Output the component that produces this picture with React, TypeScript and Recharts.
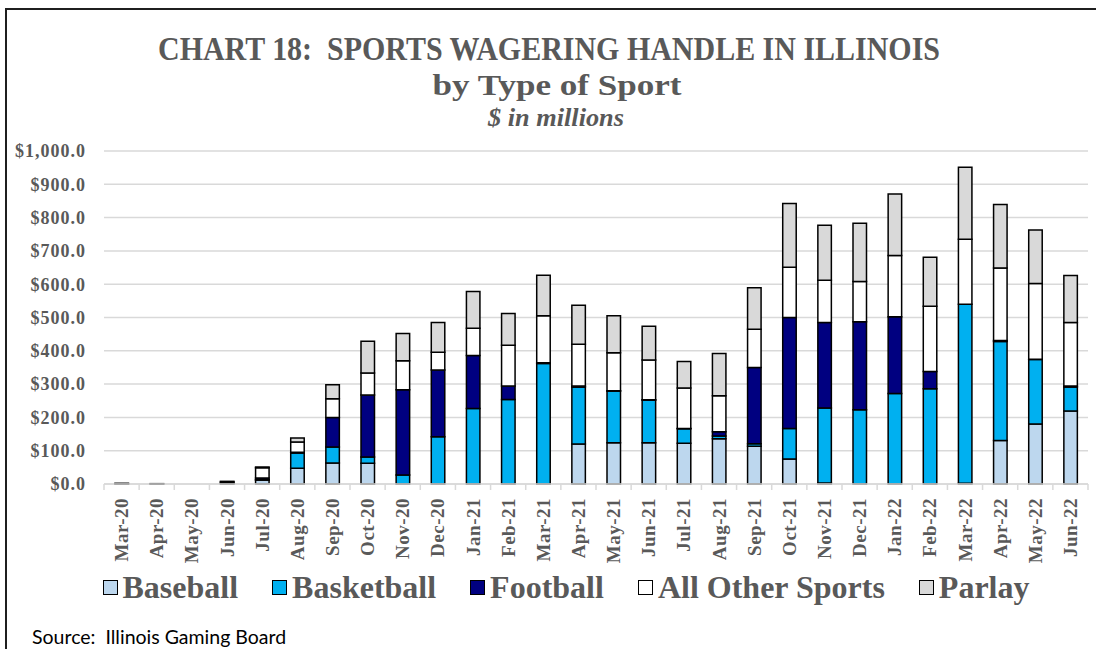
import { Bar, BarChart, CartesianGrid, Legend, XAxis, YAxis } from 'recharts';

// -----------------------------------------------------------------------------
// Data ($ in millions)
// -----------------------------------------------------------------------------

const months = [
  'Mar-20', 'Apr-20', 'May-20', 'Jun-20', 'Jul-20', 'Aug-20', 'Sep-20', 'Oct-20',
  'Nov-20', 'Dec-20', 'Jan-21', 'Feb-21', 'Mar-21', 'Apr-21', 'May-21', 'Jun-21',
  'Jul-21', 'Aug-21', 'Sep-21', 'Oct-21', 'Nov-21', 'Dec-21', 'Jan-22', 'Feb-22',
  'Mar-22', 'Apr-22', 'May-22', 'Jun-22',
];

const baseball = [
  0, 0, 0, 0, 12, 47, 63, 62, 0, 0, 0, 0, 0, 120, 124, 124,
  122, 136, 113, 75, 3, 0, 0, 0, 2, 131, 180, 219,
];
const basketball = [
  0, 0, 0, 0, 1, 46, 48, 19, 27, 142, 227, 254, 362, 171, 155, 128,
  44, 8, 8, 92, 225, 223, 272, 286, 538, 297, 194, 72,
];
const football = [
  0, 0, 0, 2, 5, 2, 89, 186, 256, 200, 159, 40, 2, 3, 1, 1,
  1, 13, 229, 333, 257, 264, 230, 52, 0, 3, 1, 3,
];
const otherSports = [
  1, 0.5, 0, 4, 31, 31, 56, 66, 87, 54, 82, 123, 141, 126, 114, 119,
  121, 108, 115, 151, 127, 121, 184, 196, 195, 218, 227, 191,
];
const parlay = [
  1, 0.5, 0, 2, 2, 12, 42, 96, 82, 89, 110, 95, 122, 117, 111, 102,
  80, 127, 124, 191, 165, 175, 185, 147, 216, 190, 161, 141,
];

const yTicks = [0, 100, 200, 300, 400, 500, 600, 700, 800, 900, 1000];

const series = [
  { key: 'baseball', name: 'Baseball', color: '#BDD7EE' },
  { key: 'basketball', name: 'Basketball', color: '#00B0F0' },
  { key: 'football', name: 'Football', color: '#000080' },
  { key: 'other', name: 'All Other Sports', color: '#FFFFFF' },
  { key: 'parlay', name: 'Parlay', color: '#D9D9D9' },
];

const data = months.map((month, i) => ({
  month,
  baseball: baseball[i],
  basketball: basketball[i],
  football: football[i],
  other: otherSports[i],
  parlay: parlay[i],
}));

// -----------------------------------------------------------------------------
// Layout
// -----------------------------------------------------------------------------

const W = 1096;
const H = 649;
const MARGIN = { top: 151, right: 8, bottom: 85, left: 0 };
const Y_W = 104;
const X_H = 80;
const BAND = (W - MARGIN.left - MARGIN.right - Y_W) / months.length;

const GRAY = '#595959';
const GRID = '#D9D9D9';
const SERIF = '"Liberation Serif", "Times New Roman", serif';

const fmt = (v: number) =>
  '$' + v.toLocaleString('en-US', { minimumFractionDigits: 1, maximumFractionDigits: 1 });

// eslint-disable-next-line @typescript-eslint/no-explicit-any
const MonthTick = (props: any) => {
  const { x, y, payload, index } = props;
  const axisY = y - 14;
  return (
    <g>
      <line x1={x - BAND / 2} x2={x - BAND / 2} y1={axisY} y2={axisY + 6} stroke={GRID} strokeWidth={1.5} />
      {index === months.length - 1 && (
        <line x1={x + BAND / 2} x2={x + BAND / 2} y1={axisY} y2={axisY + 6} stroke={GRID} strokeWidth={1.5} />
      )}
      <text
        x={x}
        y={y}
        dy="0.35em"
        transform={`rotate(-90, ${x}, ${y})`}
        textAnchor="end"
        fill={GRAY}
        fontFamily={SERIF}
        fontWeight={700}
        fontSize={19}
        letterSpacing={0.5}
      >
        {payload.value}
      </text>
    </g>
  );
};

const LegendContent = () => (
  <div
    style={{
      display: 'flex',
      justifyContent: 'center',
      gap: 34,
      fontFamily: SERIF,
      fontWeight: 700,
      fontSize: 32,
      lineHeight: '36px',
      color: GRAY,
      whiteSpace: 'nowrap',
    }}
  >
    {series.map((s) => (
      <div key={s.key} style={{ display: 'flex', alignItems: 'center' }}>
        <span
          style={{
            display: 'inline-block',
            width: 13,
            height: 13,
            border: '1.5px solid #000',
            background: s.color,
            marginRight: 5,
          }}
        />
        <span>{s.name}</span>
      </div>
    ))}
  </div>
);

// -----------------------------------------------------------------------------
// Component
// -----------------------------------------------------------------------------

export default function App() {
  return (
    <div
      style={{
        position: 'fixed',
        left: 0,
        top: 0,
        width: W,
        height: H,
        overflow: 'hidden',
        background: '#fff',
      }}
    >
      <div
        style={{
          position: 'absolute',
          left: 5,
          top: 8,
          width: 2000,
          height: 2000,
          borderLeft: '2px solid #1f1f1f',
          borderTop: '2px solid #1f1f1f',
        }}
      />
      <svg width={W} height={140} style={{ position: 'absolute', left: 0, top: 0 }}>
        <text
          x={549}
          y={60}
          textAnchor="middle"
          fill={GRAY}
          fontFamily={SERIF}
          fontWeight={700}
          fontSize={34}
          textLength={782}
          lengthAdjust="spacingAndGlyphs"
          style={{ whiteSpace: 'pre' }}
        >
          CHART 18:  SPORTS WAGERING HANDLE IN ILLINOIS
        </text>
        <text
          x={557}
          y={95}
          textAnchor="middle"
          fill={GRAY}
          fontFamily={SERIF}
          fontWeight={700}
          fontSize={30}
          textLength={249}
          lengthAdjust="spacingAndGlyphs"
        >
          by Type of Sport
        </text>
        <text
          x={556}
          y={126}
          textAnchor="middle"
          fill={GRAY}
          fontFamily={SERIF}
          fontWeight={700}
          fontStyle="italic"
          fontSize={25}
          textLength={136}
          lengthAdjust="spacingAndGlyphs"
        >
          $ in millions
        </text>
      </svg>
      <div style={{ position: 'absolute', left: 0, top: 0 }}>
        <BarChart width={W} height={H} data={data} margin={MARGIN} barSize={13.5}>
          <CartesianGrid vertical={false} stroke={GRID} strokeWidth={1.5} />
          <XAxis
            dataKey="month"
            height={X_H}
            interval={0}
            axisLine={{ stroke: GRID, strokeWidth: 1.5 }}
            tickLine={false}
            tickSize={6}
            tickMargin={8}
            tick={<MonthTick />}
          />
          <YAxis
            width={Y_W}
            domain={[0, 1000]}
            ticks={yTicks}
            axisLine={false}
            tickLine={false}
            tickSize={6}
            tickMargin={12}
            tickFormatter={fmt}
            tick={{ fill: GRAY, fontFamily: SERIF, fontWeight: 700, fontSize: 18, letterSpacing: 1 }}
          />
          <Legend
            verticalAlign="middle"
            align="center"
            content={<LegendContent />}
            wrapperStyle={{ top: 569, left: 0, width: 1132, height: 36 }}
          />
          {series.map((s) => (
            <Bar
              key={s.key}
              dataKey={s.key}
              name={s.name}
              stackId="handle"
              fill={s.color}
              stroke="#000"
              strokeWidth={1.5}
              isAnimationActive={false}
            />
          ))}
        </BarChart>
      </div>
      <div
        style={{
          position: 'absolute',
          left: 32,
          top: 626,
          fontFamily: 'Lato, "Open Sans", sans-serif',
          fontSize: 19.5,
          lineHeight: '22px',
          color: '#000',
          whiteSpace: 'pre',
        }}
      >
        Source:  Illinois Gaming Board
      </div>
    </div>
  );
}
